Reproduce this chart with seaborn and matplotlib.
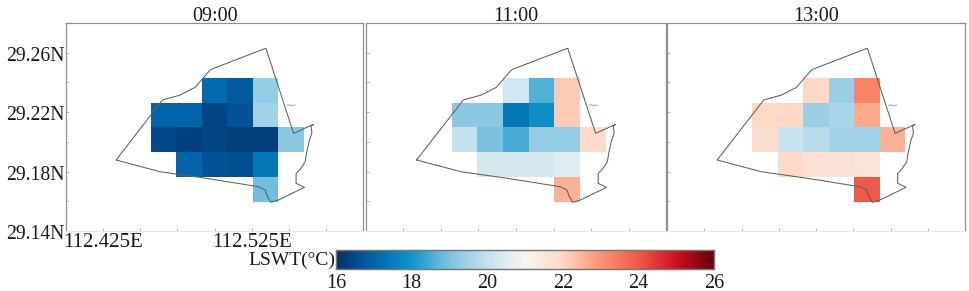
import numpy as np
import pandas as pd
import matplotlib
matplotlib.use("Agg")
import matplotlib.pyplot as plt
from matplotlib.colors import LinearSegmentedColormap
from matplotlib.transforms import ScaledTranslation
import seaborn as sns

sns.set_theme(style="white")
plt.rcParams['font.family'] = ['Liberation Serif', 'DejaVu Sans']

n = np.nan
# rows run north to south, columns west to east
lswt_0900 = [[n, n, 17.1, 16.8, 19.3, n],
             [17.0, 17.0, 16.4, 16.7, 19.5, n],
             [16.5, 16.3, 16.4, 16.3, 16.3, 19.2],
             [n, 17.0, 16.7, 16.6, 17.4, n],
             [n, n, n, n, 18.9, n]]
lswt_1100 = [[n, n, 20.2, 18.6, 22.2, n],
             [19.2, 19.2, 17.4, 17.9, 22.2, n],
             [20.0, 19.0, 18.5, 19.3, 19.3, 21.9],
             [n, 20.3, 20.3, 20.3, 20.5, n],
             [n, n, n, n, 22.6, n]]
lswt_1300 = [[n, n, 22.0, 19.4, 23.3, n],
             [22.0, 22.0, 19.4, 19.6, 22.7, n],
             [21.8, 20.1, 19.8, 19.5, 19.5, 22.6],
             [n, 21.9, 21.7, 21.7, 21.6, n],
             [n, n, n, n, 24.0, n]]
panel_titles = ["09:00", "11:00", "13:00"]

# grid cell layout in degrees
lon_origin, lon_step = 112.4572, 0.01710
lat_origin, lat_step = 29.1597, 0.01667

boundary_lon = [112.4337, 112.4649, 112.4768, 112.4869, 112.4965, 112.4981, 112.5345, 112.5531,
                112.5664, 112.5649, 112.5654, 112.5638, 112.5620, 112.5609, 112.5575, 112.5548,
                112.5548, 112.5604, 112.5430, 112.5378, 112.5352, 112.5340, 112.5295, 112.4947,
                112.4633, 112.4337]
boundary_lat = [29.1878, 29.2282, 29.2315, 29.2367, 29.2479, 29.2490, 29.2630, 29.2057,
                29.2118, 29.2107, 29.2058, 29.2012, 29.1934, 29.1866, 29.1815, 29.1788,
                29.1721, 29.1694, 29.1609, 29.1593, 29.1640, 29.1676, 29.1698, 29.1754,
                29.1799, 29.1878]
inlet_lon = [112.5486, 112.5505, 112.5522, 112.5542]
inlet_lat = [29.2246, 29.2249, 29.2245, 29.2248]

lon_ticks = [112.400, 112.425, 112.450, 112.475, 112.500, 112.525, 112.550, 112.575, 112.600]
lon_labels = ["", "112.425E", "", "", "", "112.525E", "", "", ""]
lat_ticks = [29.14, 29.16, 29.18, 29.20, 29.22, 29.24, 29.26]
lat_labels = ["29.14N", "", "29.18N", "", "29.22N", "", "29.26N"]
cbar_ticks = [16, 18, 20, 22, 24, 26]

cmap_levels = [16, 17, 18, 19, 20, 21, 22, 23, 24, 25, 26]
cmap_colors = ["#02306b", "#0065ab", "#0f95c8", "#7ec3e0", "#c5e1ee", "#f8f6f4",
               "#fdd8c5", "#fc9473", "#ee5a48", "#cf1020", "#67000d"]
cmap = LinearSegmentedColormap.from_list(
    "lswt", [((v - 16) / 10, c) for v, c in zip(cmap_levels, cmap_colors)], N=256)


def x_cell(lon):
    return (np.asarray(lon) - lon_origin) / lon_step


def y_cell(lat):
    return (np.asarray(lat) - lat_origin) / lat_step


W, H = 969, 291
fig = plt.figure(figsize=(W / 100, H / 100), dpi=100, facecolor="white")


def px_axes(x0, x1, y0, y1):
    return fig.add_axes([x0 / W, 1 - y1 / H, (x1 - x0) / W, (y1 - y0) / H])


boxes = [(66, 363.3), (366, 666), (667, 965)]
grey = "#8f8f8f"
text_color = "#1a1a1a"
cax = px_axes(336, 714, 250, 269)

for i, (vals, title, (x0, x1)) in enumerate(zip([lswt_0900, lswt_1100, lswt_1300], panel_titles, boxes)):
    ax = px_axes(x0, x1, 23, 231)
    df = pd.DataFrame(vals[::-1])
    sns.heatmap(df, ax=ax, cmap=cmap, vmin=16, vmax=26, linewidths=0,
                cbar=i == 0, cbar_ax=cax if i == 0 else None,
                cbar_kws={"orientation": "horizontal"} if i == 0 else None)
    ax.plot(x_cell(boundary_lon), y_cell(boundary_lat), color="#606060", lw=0.75)
    ax.plot(x_cell(inlet_lon), y_cell(inlet_lat), color="#777777", lw=0.5)
    ax.set_xlim(x_cell(112.4), x_cell(112.6))
    ax.set_ylim(y_cell(29.14), y_cell(29.28))
    ax.set_xticks(x_cell(lon_ticks))
    ax.set_yticks(y_cell(lat_ticks))
    ax.set_xticklabels(lon_labels if i == 0 else [""] * len(lon_ticks), rotation=0, fontsize=15, color=text_color)
    ax.set_yticklabels(lat_labels if i == 0 else [""] * len(lat_ticks), rotation=0, fontsize=14.2, color=text_color)
    ax.tick_params(axis="both", direction="in", length=2, width=0.6, color="#a8a8a8", bottom=True, left=True)
    ax.tick_params(axis="x", pad=1.5)
    ax.tick_params(axis="y", pad=1)
    shift = ScaledTranslation(0, -2.5 / 72, fig.dpi_scale_trans)
    for lab in ax.get_yticklabels():
        lab.set_transform(lab.get_transform() + shift)
    ax.set_xlabel("")
    ax.set_ylabel("")
    ax.set_title(title, fontsize=14.5, color=text_color, pad=1.5, y=1.0)
    for side, sp in ax.spines.items():
        sp.set_visible(True)
        sp.set_color("#e6e6e6" if side == "bottom" else grey)
        sp.set_linewidth(0.7 if side == "bottom" else 0.9)

cax.set_xticks(cbar_ticks)
cax.set_xticklabels([str(t) for t in cbar_ticks], fontsize=14.5, color=text_color)
cax.tick_params(axis="x", direction="in", length=2, width=0.6, color="#707070", pad=3.5, bottom=True)
for sp in cax.spines.values():
    sp.set_visible(True)
    sp.set_color("#777777")
    sp.set_linewidth(0.9)
fig.text(335 / W, 1 - 260 / H, "LSWT(°C)", ha="right", va="center", fontsize=14, color=text_color)

fig.savefig("out.png", dpi=100, facecolor="white")
